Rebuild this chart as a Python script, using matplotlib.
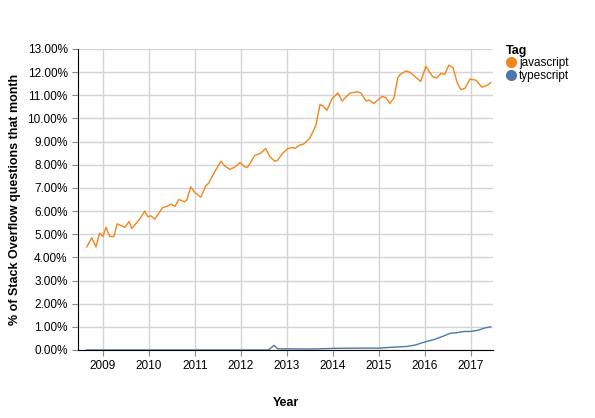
import matplotlib
matplotlib.use("Agg")
import matplotlib.pyplot as plt
from matplotlib.ticker import FuncFormatter, MultipleLocator
from matplotlib.lines import Line2D

plt.rcParams['font.family'] = ['Liberation Sans', 'DejaVu Sans']

js_x = [2008.65,2008.76,2008.85,2008.93,2009.0,2009.07,2009.15,2009.24,2009.31,2009.48,2009.57,2009.63,2009.8,2009.91,2009.98,2010.04,2010.13,2010.3,2010.39,2010.48,2010.57,2010.65,2010.78,2010.83,2010.91,2011.0,2011.13,2011.24,2011.3,2011.43,2011.57,2011.65,2011.76,2011.87,2011.98,2012.09,2012.15,2012.3,2012.43,2012.54,2012.63,2012.74,2012.8,2012.91,2013.02,2013.13,2013.17,2013.28,2013.37,2013.5,2013.63,2013.72,2013.78,2013.87,2013.98,2014.11,2014.2,2014.37,2014.54,2014.61,2014.72,2014.78,2014.89,2015.07,2015.15,2015.24,2015.33,2015.41,2015.46,2015.59,2015.67,2015.91,2016.02,2016.17,2016.26,2016.35,2016.43,2016.52,2016.61,2016.7,2016.78,2016.87,2016.98,2017.11,2017.24,2017.37,2017.43]
js_y = [4.45,4.85,4.45,5.05,4.9,5.3,4.9,4.9,5.45,5.3,5.55,5.25,5.65,6.0,5.75,5.8,5.65,6.15,6.2,6.3,6.2,6.5,6.4,6.5,7.05,6.8,6.6,7.1,7.2,7.7,8.15,7.95,7.8,7.9,8.1,7.9,7.9,8.4,8.5,8.7,8.35,8.15,8.2,8.5,8.7,8.75,8.7,8.85,8.9,9.15,9.7,10.6,10.55,10.35,10.85,11.1,10.75,11.1,11.15,11.1,10.75,10.8,10.65,10.95,10.9,10.65,10.9,11.75,11.9,12.05,12.0,11.6,12.25,11.8,11.75,11.95,11.9,12.3,12.2,11.55,11.25,11.3,11.7,11.65,11.35,11.45,11.55]

ts_x = [2008.65,2012.6,2012.72,2012.8,2013.0,2013.5,2014.0,2014.5,2015.0,2015.3,2015.6,2015.8,2016.0,2016.2,2016.4,2016.55,2016.7,2016.85,2017.0,2017.15,2017.3,2017.43]
ts_y = [0.0,0.0,0.2,0.05,0.05,0.04,0.07,0.08,0.08,0.12,0.15,0.22,0.35,0.45,0.6,0.72,0.75,0.8,0.8,0.85,0.95,1.0]

years = [2009,2010,2011,2012,2013,2014,2015,2016,2017]
series = ["javascript", "typescript"]
colors = ["#f58518", "#4c78a8"]

fig = plt.figure(figsize=(5.95,4.18), dpi=100)
ax = fig.add_axes([78/595, 1-350/418, (493-78)/595, (350-49)/418])
ax.plot(js_x, js_y, color=colors[0], lw=1)
ax.plot(ts_x, ts_y, color=colors[1], lw=1)
ax.set_xlim(2008.46, 2017.48)
ax.set_ylim(0, 13)
ax.set_xticks(years)
ax.set_xticklabels([str(y) for y in years])
ax.yaxis.set_major_locator(MultipleLocator(1))
ax.yaxis.set_major_formatter(FuncFormatter(lambda v, p: f"{v:.2f}%"))
ax.grid(True, color="#d4d4d4", lw=1)
ax.set_axisbelow(True)
for s in ["top","right"]:
    ax.spines[s].set_visible(False)
for s in ["left","bottom"]:
    ax.spines[s].set_color("black")
ax.tick_params(labelsize=8.5, length=4, color="#888888")
ax.set_xlabel("Year", fontsize=9, fontweight="bold", labelpad=18)
ax.set_ylabel("% of Stack Overflow questions that month", fontsize=9, fontweight="bold", labelpad=5)
handles = [Line2D([], [], ls="none", marker="o", markersize=7, color=c) for c in colors]
leg = ax.legend(handles, series, loc="upper left", bbox_to_anchor=(1.02, 1.03), frameon=False, title="Tag",
                fontsize=8.5, handlelength=0.8, handletextpad=0.3, labelspacing=0.05,
                borderaxespad=0)
leg.get_title().set_fontweight("bold")
leg.get_title().set_fontsize(9)
leg._legend_box.align = "left"
fig.savefig("out.png", dpi=100)
